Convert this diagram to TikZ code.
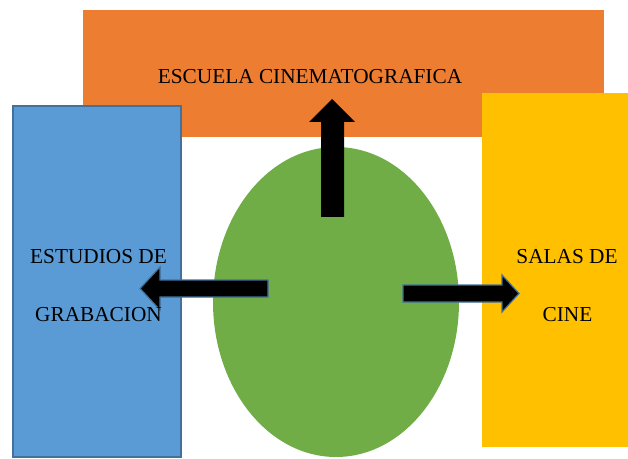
\documentclass[tikz,border=0pt]{standalone}
\usepackage{fontspec}
\setmainfont{Liberation Serif}
\definecolor{orng}{HTML}{ED7D31}
\definecolor{blu}{HTML}{5B9BD5}
\definecolor{bluline}{HTML}{41719C}
\definecolor{yel}{HTML}{FFC000}
\definecolor{grn}{HTML}{70AD47}
\begin{document}
\begin{tikzpicture}[x=1pt,y=1pt,
  lbl/.style={anchor=base,inner sep=0pt,font=\fontsize{21.3}{25}\selectfont},
  blkarrow/.style={fill=black,draw=bluline,line width=1.2pt,line join=miter}]
\useasboundingbox (0,0) rectangle (628,458);
\fill[orng] (83,448) rectangle (604,321);
\draw[fill=blu,draw=bluline,line width=1.5pt] (13,352) rectangle (181,1);
\fill[yel] (482,365) rectangle (640,11);
\fill[grn] (336,156) ellipse [x radius=123, y radius=155];
% up arrow
\fill[black] (321,241) -- (321,336) -- (309,336) -- (332,359) -- (355,336) -- (344,336) -- (344,241) -- cycle;
% left arrow
\draw[blkarrow] (268,178) -- (160,178) -- (160,191) -- (140,169.5) -- (160,148) -- (160,161) -- (268,161) -- cycle;
% right arrow
\draw[blkarrow] (403,173) -- (502,173) -- (502,183) -- (519,164.5) -- (502,146) -- (502,156) -- (403,156) -- cycle;
\node[lbl] (esc) at (310,374) {ESCUELA CINEMATOGRAFICA};
\node[lbl] (est) at (98.5,195) {ESTUDIOS DE};
\node[lbl] (gra) at (98.5,137) {GRABACION};
\node[lbl] (sal) at (567,194) {SALAS DE};
\node[lbl] (cin) at (567.5,137) {CINE};
\end{tikzpicture}
\end{document}
